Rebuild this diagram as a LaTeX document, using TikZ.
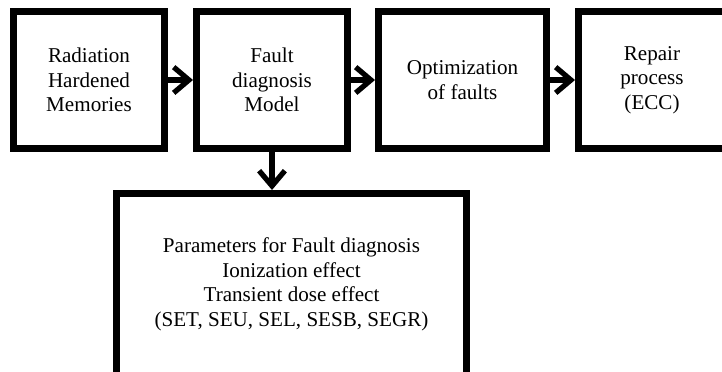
\documentclass[tikz,border=0pt]{standalone}
\usepackage{fontspec}
\setmainfont{Liberation Serif}
\usepackage{tikz}
\tikzstyle{thickblock} = [draw, line width=6pt, align=center, inner sep=0pt, font=\fontsize{18}{21}\selectfont]
\tikzstyle{flowarrow} = [line width=4.5pt, -{Straight Barb[length=13pt, width=22pt]}]
\usetikzlibrary{arrows.meta}

\begin{document}
\begin{tikzpicture}
      \useasboundingbox (0, 0) rectangle (21.66, -11.13);
      \clip (0, 0) rectangle (21.66, -11.13);
      \node[thickblock, minimum width=4.53cm, minimum height=4.11cm] (memories) at (2.67, -2.4) {Radiation\\Hardened\\Memories};
      \node[thickblock, minimum width=4.53cm, minimum height=4.11cm] (model) at (8.16, -2.4) {Fault\\diagnosis\\Model};
      \node[thickblock, minimum width=5.04cm, minimum height=4.11cm] (optim) at (13.875, -2.4) {Optimization\\of faults};
      \node[thickblock, minimum width=4.41cm, minimum height=4.11cm] (repair) at (19.56, -2.4) {Repair\\process\\(ECC)};
      \node[thickblock, minimum width=10.5cm, minimum height=5.46cm] (params) at (8.745, -8.535) {Parameters for Fault diagnosis\\Ionization effect\\Transient dose effect\\(SET, SEU, SEL, SESB, SEGR)};

      \draw[flowarrow] (memories) -- (model);
      \draw[flowarrow] (model) -- (optim);
      \draw[flowarrow] (optim) -- (repair);
      \draw[flowarrow] (model.south) -- (model.south |- params.north);
    \end{tikzpicture}
\end{document}
